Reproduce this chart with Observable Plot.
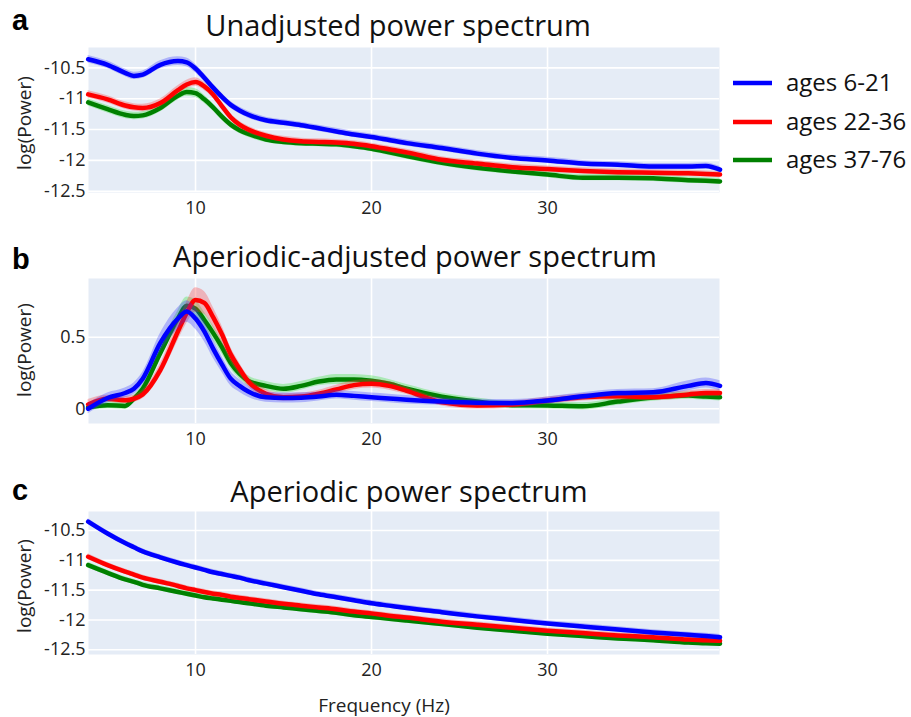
<!DOCTYPE html>
<html><head><meta charset="utf-8">
<script src="https://cdn.jsdelivr.net/npm/d3@7"></script>
<script src="https://cdn.jsdelivr.net/npm/@observablehq/plot@0.6"></script>
<style>
body{margin:0;background:#fff;}
#wrap{position:relative;width:911px;height:717px;font-family:"Open Sans",sans-serif;overflow:hidden;}
#wrap > svg{position:absolute;left:0;}
</style></head><body><div id="wrap"></div>
<script>
// ---- data ----
const freqs = [3.9,5,6,6.5,7,8,9,9.5,10,10.5,11,11.5,12,12.5,13,14,15,16,17,18,19,20,21,22,24,26,28,30,32,34,36,38,39,39.8];
const groups = ["ages 6-21", "ages 22-36", "ages 37-76"];
const lineColors = ["#0000ff", "#ff0000", "#008000"];
const bandColors = ["#3030ff", "#ff3030", "#20e020"];
const xTicks = [10, 20, 30];
const yTicksLog = [-12.5, -12, -11.5, -11, -10.5];
const yTicksAdj = [0, 0.5];
const titles = ["Unadjusted power spectrum", "Aperiodic-adjusted power spectrum", "Aperiodic power spectrum"];
const letters = ["a", "b", "c"];

// panel a: unadjusted
const blueA = [-10.36,-10.45,-10.58,-10.63,-10.61,-10.45,-10.39,-10.41,-10.51,-10.66,-10.82,-10.97,-11.10,-11.19,-11.26,-11.35,-11.39,-11.43,-11.48,-11.53,-11.58,-11.62,-11.67,-11.72,-11.80,-11.89,-11.96,-12.00,-12.05,-12.07,-12.10,-12.10,-12.09,-12.15];
const redA = [-10.93,-11.01,-11.11,-11.14,-11.15,-11.07,-10.86,-10.77,-10.73,-10.80,-10.93,-11.12,-11.30,-11.42,-11.50,-11.60,-11.66,-11.69,-11.70,-11.71,-11.73,-11.77,-11.82,-11.87,-11.99,-12.05,-12.11,-12.14,-12.17,-12.19,-12.20,-12.21,-12.22,-12.23];
const greenA = [-11.06,-11.17,-11.26,-11.28,-11.27,-11.15,-10.95,-10.89,-10.91,-11.01,-11.14,-11.29,-11.42,-11.51,-11.57,-11.66,-11.70,-11.72,-11.73,-11.74,-11.77,-11.81,-11.87,-11.93,-12.04,-12.12,-12.18,-12.23,-12.28,-12.28,-12.29,-12.32,-12.33,-12.34];
const errA = [0.06,0.06,0.06,0.06,0.06,0.065,0.07,0.07,0.07,0.065,0.06,0.06,0.055,0.055,0.055,0.05,0.05,0.05,0.05,0.05,0.05,0.05,0.05,0.05,0.05,0.05,0.05,0.05,0.05,0.05,0.05,0.05,0.05,0.05];

// panel b: aperiodic-adjusted
const blueB = [0.00,0.075,0.11,0.14,0.21,0.46,0.63,0.68,0.63,0.54,0.42,0.31,0.21,0.16,0.12,0.08,0.075,0.077,0.085,0.098,0.09,0.08,0.072,0.063,0.05,0.042,0.04,0.058,0.087,0.11,0.115,0.16,0.18,0.16];
const redB = [0.03,0.07,0.06,0.07,0.10,0.27,0.54,0.67,0.76,0.74,0.64,0.52,0.38,0.28,0.19,0.105,0.08,0.085,0.105,0.135,0.165,0.175,0.16,0.125,0.045,0.023,0.03,0.058,0.08,0.087,0.082,0.10,0.11,0.11];
const greenB = [0.01,0.025,0.02,0.07,0.14,0.39,0.63,0.72,0.70,0.62,0.53,0.43,0.32,0.245,0.195,0.16,0.14,0.16,0.19,0.205,0.205,0.195,0.175,0.14,0.085,0.05,0.025,0.023,0.017,0.05,0.078,0.092,0.085,0.08];
const errBlueB = [0.035,0.035,0.035,0.04,0.045,0.065,0.075,0.075,0.075,0.07,0.065,0.055,0.05,0.045,0.04,0.035,0.035,0.035,0.03,0.03,0.03,0.03,0.03,0.03,0.025,0.025,0.025,0.025,0.025,0.025,0.025,0.035,0.035,0.035];
const errRedB = [0.035,0.025,0.025,0.025,0.03,0.045,0.065,0.075,0.085,0.08,0.07,0.06,0.05,0.04,0.035,0.03,0.025,0.025,0.025,0.03,0.03,0.03,0.03,0.025,0.025,0.025,0.025,0.025,0.025,0.025,0.025,0.025,0.025,0.025];
const errGreenB = [0.025,0.025,0.025,0.025,0.03,0.045,0.055,0.06,0.06,0.055,0.05,0.045,0.04,0.035,0.035,0.03,0.03,0.03,0.03,0.035,0.035,0.035,0.03,0.03,0.025,0.025,0.025,0.025,0.025,0.025,0.025,0.025,0.025,0.025];

// panel c: aperiodic
const blueC = [-10.35,-10.55,-10.71,-10.78,-10.85,-10.95,-11.04,-11.08,-11.12,-11.16,-11.20,-11.23,-11.26,-11.29,-11.33,-11.39,-11.45,-11.51,-11.57,-11.62,-11.67,-11.72,-11.76,-11.80,-11.87,-11.94,-12.00,-12.06,-12.11,-12.16,-12.21,-12.25,-12.27,-12.29];
const redC = [-10.94,-11.08,-11.19,-11.24,-11.29,-11.36,-11.43,-11.47,-11.50,-11.53,-11.56,-11.58,-11.61,-11.63,-11.65,-11.69,-11.73,-11.76,-11.79,-11.82,-11.86,-11.89,-11.93,-11.96,-12.03,-12.08,-12.13,-12.18,-12.22,-12.26,-12.29,-12.33,-12.34,-12.35];
const greenC = [-11.08,-11.21,-11.32,-11.36,-11.41,-11.47,-11.53,-11.56,-11.59,-11.62,-11.64,-11.66,-11.68,-11.70,-11.72,-11.76,-11.79,-11.82,-11.85,-11.88,-11.92,-11.95,-11.98,-12.01,-12.07,-12.13,-12.18,-12.23,-12.27,-12.31,-12.34,-12.38,-12.39,-12.40];
const errC = [0.05,0.045,0.045,0.045,0.045,0.045,0.045,0.045,0.045,0.045,0.045,0.045,0.045,0.045,0.045,0.045,0.045,0.045,0.045,0.045,0.045,0.045,0.045,0.045,0.045,0.045,0.045,0.045,0.045,0.045,0.045,0.045,0.045,0.045];

// ---- build ----
const wrap = document.getElementById("wrap");
const rows = (vals, errs) => freqs.map((f, i) => ({f, v: vals[i], lo: vals[i] - errs[i], hi: vals[i] + errs[i]}));
const fmt = d => String(d);

function panel(top, marginTop, height, yDomain, yTicks, series) {
  const marks = [
    Plot.frame({fill: "#e5ecf6", stroke: "none"}),
    Plot.ruleX(xTicks, {stroke: "white", strokeWidth: 1.6}),
    Plot.ruleY(yTicks, {stroke: "white", strokeWidth: 1.6})
  ];
  for (const k of [2, 1, 0]) {
    const data = rows(series[k][0], series[k][1]);
    marks.push(Plot.areaY(data, {x: "f", y1: "lo", y2: "hi", fill: bandColors[k], fillOpacity: 0.3, curve: "monotone-x"}));
    marks.push(Plot.line(data, {x: "f", y: "v", stroke: lineColors[k], strokeWidth: 4.5, curve: "monotone-x"}));
  }
  const svg = Plot.plot({
    width: 911, height, marginLeft: 88, marginRight: 192, marginTop, marginBottom: 30,
    style: {background: "transparent", fontFamily: "'Open Sans', sans-serif", fontSize: "18px", color: "#222", overflow: "visible"},
    x: {domain: [3.92, 39.77], ticks: xTicks, tickSize: 0, tickPadding: 9, label: null, tickFormat: fmt},
    y: {domain: yDomain, ticks: yTicks, tickSize: 0, tickPadding: 3, label: null, tickFormat: fmt},
    marks
  });
  svg.style.top = top + "px";
  wrap.appendChild(svg);
}

panel(0, 47, 222, [-12.52, -10.17], yTicksLog, [[blueA, errA], [redA, errA], [greenA, errA]]);
panel(240, 38, 213, [-0.103, 0.91], yTicksAdj, [[blueB, errBlueB], [redB, errRedB], [greenB, errGreenB]]);
panel(470, 41, 214, [-12.58, -10.18], yTicksLog, [[blueC, errC], [redC, errC], [greenC, errC]]);

// ---- overlay text & legend ----
const ns = "http://www.w3.org/2000/svg";
const ov = document.createElementNS(ns, "svg");
ov.setAttribute("width", 911); ov.setAttribute("height", 717);
ov.style.top = "0px"; ov.style.pointerEvents = "none";
wrap.appendChild(ov);
function txt(s, x, y, attrs) {
  const t = document.createElementNS(ns, "text");
  t.textContent = s;
  t.setAttribute("x", x); t.setAttribute("y", y);
  for (const k in attrs) t.setAttribute(k, attrs[k]);
  ov.appendChild(t);
  return t;
}
const letterY = [30, 269, 500];
const titleX = [398, 415, 409], titleY = [36, 267, 502];
const ylabY = [123, 350, 586];
for (let i = 0; i < 3; i++) {
  txt(letters[i], 12, letterY[i], {"font-family": "'Liberation Sans', Arial, sans-serif", "font-weight": "bold", "font-size": 29, fill: "#000"});
  txt(titles[i], titleX[i], titleY[i], {"font-family": "'Open Sans', sans-serif", "font-size": 29, "text-anchor": "middle", fill: "#111"});
  txt("log(Power)", 0, 0, {"font-family": "'Open Sans', sans-serif", "font-size": 19, "text-anchor": "middle", "dominant-baseline": "central", fill: "#222", transform: `translate(24,${ylabY[i]}) rotate(-90)`});
}
txt("Frequency (Hz)", 384, 712, {"font-family": "'Open Sans', sans-serif", "font-size": 19, "text-anchor": "middle", fill: "#222"});
const legY = [83, 122, 160];
groups.forEach((g, i) => {
  const l = document.createElementNS(ns, "line");
  l.setAttribute("x1", 733); l.setAttribute("x2", 772);
  l.setAttribute("y1", legY[i]); l.setAttribute("y2", legY[i]);
  l.setAttribute("stroke", lineColors[i]); l.setAttribute("stroke-width", 4.5);
  ov.appendChild(l);
  txt(g, 786, legY[i] + 8, {"font-family": "'Open Sans', sans-serif", "font-size": 24, fill: "#111"});
});
</script></body></html>
